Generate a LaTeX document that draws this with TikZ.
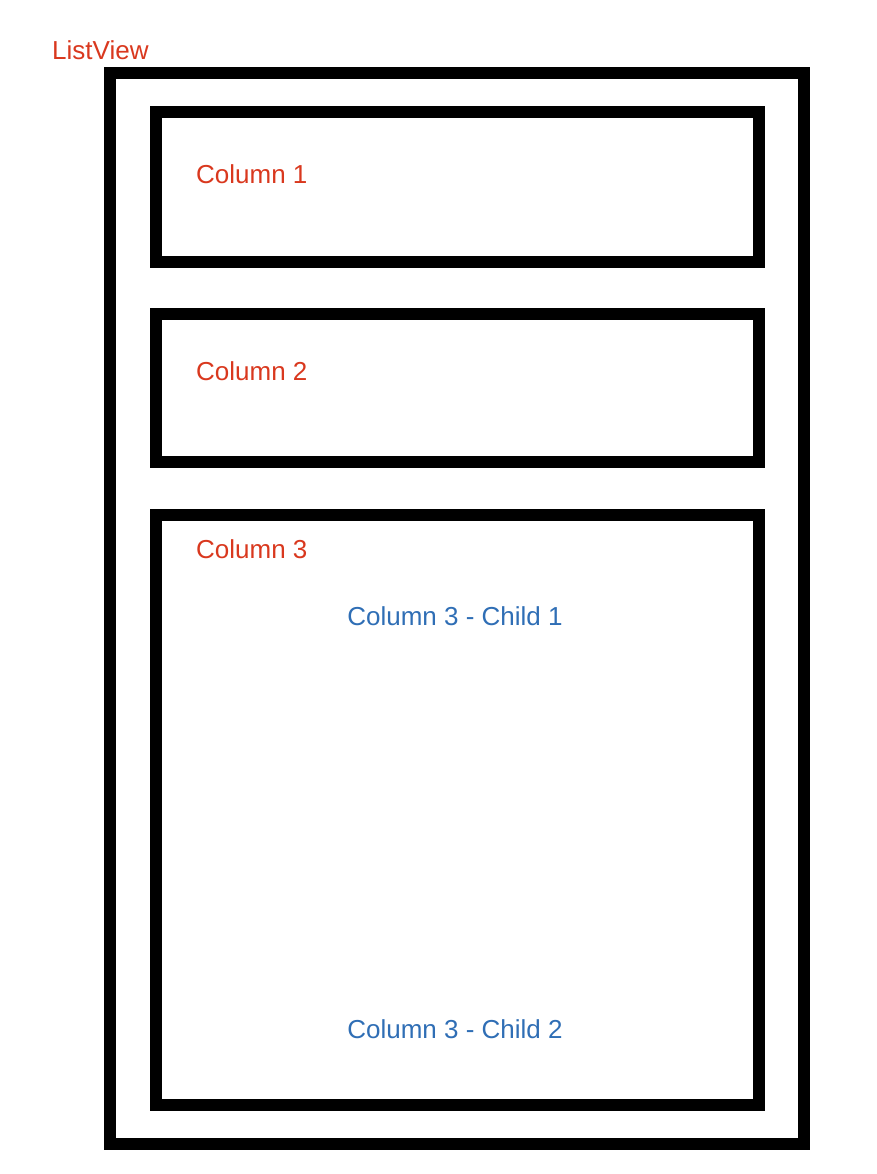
\documentclass[tikz,border=0pt]{standalone}
\usepackage{fontspec}
\setmainfont{Liberation Sans}
\usepackage[HTML]{xcolor}
\usetikzlibrary{positioning}
\definecolor{labelred}{HTML}{D9381E}
\definecolor{labelblue}{HTML}{2F6EB5}
\tikzset{
  box/.style={draw=black, line width=12pt},
  redlabel/.style={text=labelred, font=\fontsize{26}{30}\selectfont, anchor=west, inner sep=0pt},
  bluelabel/.style={text=labelblue, font=\fontsize{26}{30}\selectfont, inner sep=0pt}
}
\begin{document}
\begin{tikzpicture}[x=1pt, y=-1pt]
\useasboundingbox (0,0) rectangle (876,1174);
% outer list
\draw[box] (110,73) rectangle (804,1144);
\node[redlabel] (listview) at (52,50) {ListView};

% columns
\draw[box] (156,112) rectangle (759,262);
\node[redlabel] (col1) at (196,174) {Column 1};
\draw[box] (156,314) rectangle (759,462);
\node[redlabel] (col2) at (196,371) {Column 2};
\draw[box] (156,515) rectangle (759,1105);
\node[redlabel] (col3) at (196,549) {Column 3};

% children of column 3
\node[bluelabel] (child1) at (455,616) {Column 3 - Child 1};
\node[bluelabel] (child2) at (455,1029) {Column 3 - Child 2};
\end{tikzpicture}
\end{document}
